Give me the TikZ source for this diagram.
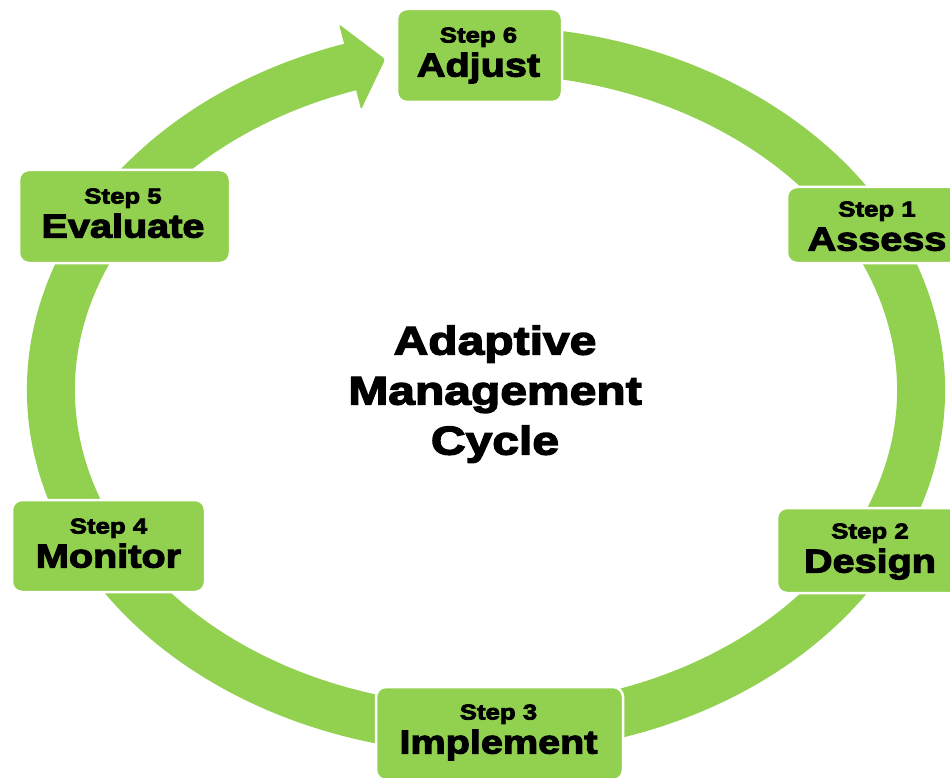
\documentclass[tikz,border=0pt]{standalone}
\usepackage{fontspec}
\newfontfamily\heavyfont{Liberation Sans}[UprightFont={* Bold}, FakeBold=3.5, FakeStretch=1.2]
\definecolor{leaf}{HTML}{92D050}
\begin{document}
\begin{tikzpicture}[x=1pt,y=-1pt,
  stepbox/.style={draw=white, line width=2.5pt, fill=leaf, rounded corners=10pt, inner sep=0pt},
  steptext/.style={font=\heavyfont\fontsize{33}{34}\selectfont, align=center, inner sep=0pt, text depth=0pt},
  ringband/.style={draw=leaf, line width=48pt},
  titletext/.style={font=\heavyfont\fontsize{40}{50}\selectfont, align=center, inner sep=0pt, text depth=0pt}]
\useasboundingbox (0,0) rectangle (950,778);
\clip (0,0) rectangle (950,778);
\fill[white] (0,0) rectangle (950,778);
\coordinate (c) at (486,390);
% ring band
\draw[ringband] ([shift={(253:435 and 340)}]c) arc[start angle=253, end angle=-88, x radius=435, y radius=340];
% arrowhead
\coordinate (tip) at (385.2,59.2);
\coordinate (barbA) at (339.1,24.4);
\coordinate (barbB) at (361.1,109.6);
\fill[leaf, rounded corners=2pt] (barbA) -- (tip) -- (barbB) -- cycle;
% boxes
\node[stepbox, minimum width=165pt, minimum height=93pt] (s6) at (479.5,55.5) {};
\node[stepbox, minimum width=180pt, minimum height=76pt] (s1) at (877,225) {};
\node[stepbox, minimum width=186pt, minimum height=85pt] (s2) at (870,550.5) {};
\node[stepbox, minimum width=247pt, minimum height=93pt] (s3) at (499.5,733.5) {};
\node[stepbox, minimum width=193pt, minimum height=92pt] (s4) at (108.5,546) {};
\node[stepbox, minimum width=211pt, minimum height=93pt] (s5) at (124.5,216.5) {};
% texts
\node[steptext] (t6) at (478.5,52) {{\fontsize{21.5}{34}\selectfont Step 6}\\Adjust};
\node[steptext] (t1) at (877,226) {{\fontsize{21.5}{34}\selectfont Step 1}\\Assess};
\node[steptext] (t2) at (870,548) {{\fontsize{21.5}{34}\selectfont Step 2}\\Design};
\node[steptext] (t3) at (498.5,729) {{\fontsize{21.5}{34}\selectfont Step 3}\\Implement};
\node[steptext] (t4) at (108.5,543) {{\fontsize{21.5}{34}\selectfont Step 4}\\Monitor};
\node[steptext] (t5) at (123,213) {{\fontsize{21.5}{34}\selectfont Step 5}\\Evaluate};
\node[titletext] (title) at (495,390) {Adaptive\\Management\\Cycle};
\end{tikzpicture}
\end{document}
